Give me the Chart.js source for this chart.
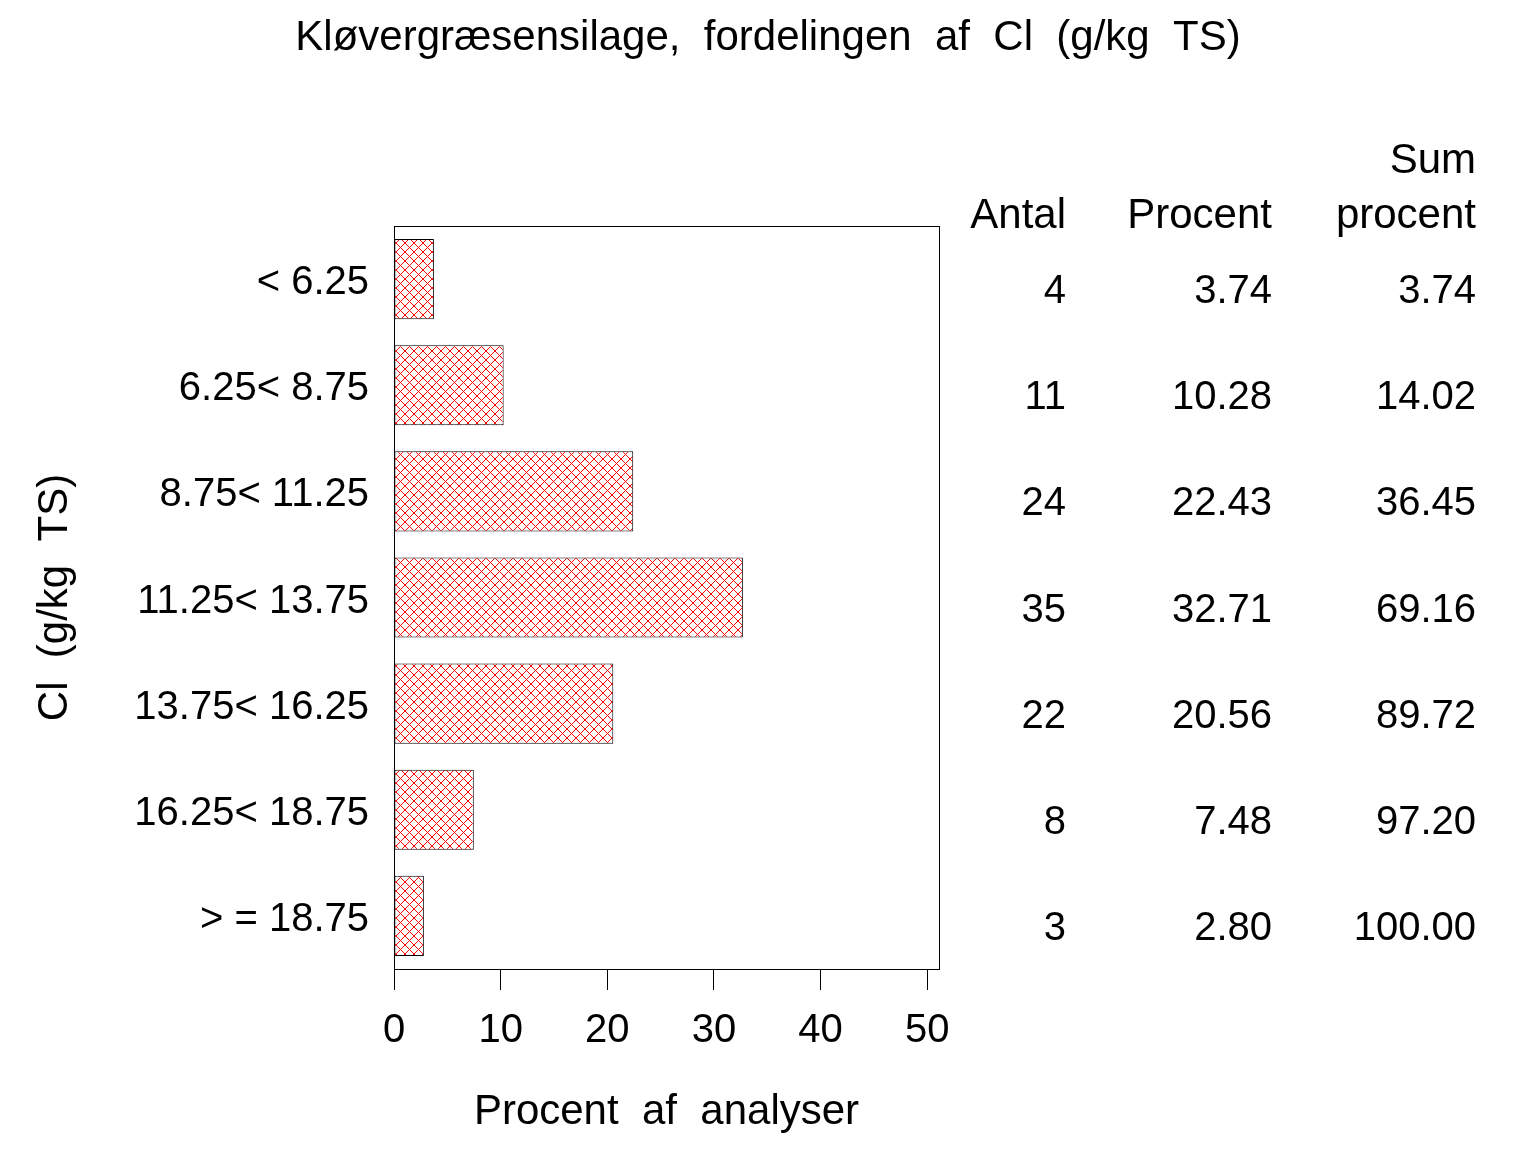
<!DOCTYPE html>
<html>
<head>
<meta charset="utf-8">
<script src="https://cdn.jsdelivr.net/npm/chart.js@4.4.1/dist/chart.umd.min.js"></script>
<style>
  html, body { margin: 0; padding: 0; background: #fff; }
  canvas { display: block; }
</style>
</head>
<body>
<canvas id="c" width="1536" height="1152"></canvas>
<script>
const chartTitle = 'Kløvergræsensilage,  fordelingen  af  Cl  (g/kg  TS)';
const yTitle = 'Cl  (g/kg  TS)';
const xTitle = 'Procent  af  analyser';
const categories = ['< 6.25', '6.25< 8.75', '8.75< 11.25', '11.25< 13.75', '13.75< 16.25', '16.25< 18.75', '> = 18.75'];
const percents = [3.74, 10.28, 22.43, 32.71, 20.56, 7.48, 2.80];
const counts = ['4', '11', '24', '35', '22', '8', '3'];
const percentLabels = ['3.74', '10.28', '22.43', '32.71', '20.56', '7.48', '2.80'];
const cumulative = ['3.74', '14.02', '36.45', '69.16', '89.72', '97.20', '100.00'];
const xTicks = [0, 10, 20, 30, 40, 50];

const FONT = '"Liberation Sans", Arial, sans-serif';

function makeHatch() {
  const s = 9;
  const p = document.createElement('canvas');
  p.width = s; p.height = s;
  const g = p.getContext('2d');
  g.fillStyle = '#ffffff';
  g.fillRect(0, 0, s, s);
  g.fillStyle = '#ff0000';
  for (let i = 0; i < s; i++) {
    g.fillRect(i, i, 1, 1);
    g.fillRect(s - 1 - i, i, 1, 1);
  }
  return g.createPattern(p, 'repeat');
}

const ctx = document.getElementById('c').getContext('2d');
const hatch = makeHatch();

const extras = {
  id: 'extras',
  afterDatasetsDraw(chart) {
    const c = chart.ctx;
    const a = chart.chartArea;
    c.save();
    c.strokeStyle = '#000';
    c.lineWidth = 1;
    c.strokeRect(Math.round(a.left) + 0.5, Math.round(a.top) + 0.5,
                 Math.round(a.right - a.left), Math.round(a.bottom - a.top));
    c.restore();
  },
  afterDraw(chart) {
    const c = chart.ctx;
    const ys = chart.scales.y;
    c.save();
    c.fillStyle = '#000';
    c.font = '42px ' + FONT;
    c.textAlign = 'center';
    c.textBaseline = 'middle';
    c.fillText(chartTitle, 768, 38);
    const cols = [1066, 1272, 1476];
    c.textAlign = 'right';
    c.textBaseline = 'alphabetic';
    c.fillText('Sum', cols[2], 173);
    c.fillText('Antal', cols[0], 228);
    c.fillText('Procent', cols[1], 228);
    c.fillText('procent', cols[2], 228);
    c.font = '40px ' + FONT;
    c.textBaseline = 'middle';
    categories.forEach((cat, i) => {
      const y = ys.getPixelForValue(i) + 13;
      c.fillText(counts[i], cols[0], y);
      c.fillText(percentLabels[i], cols[1], y);
      c.fillText(cumulative[i], cols[2], y);
    });
    c.restore();
  }
};

new Chart(ctx, {
  type: 'bar',
  data: {
    labels: categories,
    datasets: [{
      data: percents,
      backgroundColor: hatch,
      borderColor: '#000',
      borderWidth: 1,
      borderSkipped: false,
      categoryPercentage: 1,
      barPercentage: 0.755
    }]
  },
  options: {
    indexAxis: 'y',
    responsive: false,
    animation: false,
    devicePixelRatio: 1,
    layout: { padding: { left: 26, right: 597, top: 226, bottom: 10 } },
    plugins: {
      legend: { display: false },
      title: { display: false },
      tooltip: { enabled: false }
    },
    scales: {
      x: {
        type: 'linear',
        min: 0,
        max: 51.1,
        afterFit(scale) { scale.height = 173; },
        afterBuildTicks(scale) { scale.ticks = xTicks.map(v => ({ value: v })); },
        ticks: {
          includeBounds: false,
          stepSize: 10,
          color: '#000',
          font: { family: FONT, size: 40 },
          padding: 17,
          maxRotation: 0
        },
        grid: {
          display: true,
          drawOnChartArea: false,
          drawTicks: true,
          tickLength: 21,
          color: '#000',
          tickColor: '#000',
          lineWidth: 1
        },
        border: { display: false },
        title: {
          display: true,
          text: xTitle,
          color: '#000',
          font: { family: FONT, size: 42 },
          padding: { top: 4, bottom: 4 }
        }
      },
      y: {
        afterFit(scale) { scale.width = 394 - 26; },
        ticks: {
          color: '#000',
          font: { family: FONT, size: 40 },
          padding: 25,
          labelOffset: 4
        },
        grid: { display: false, drawTicks: false },
        border: { display: false },
        title: {
          display: true,
          text: yTitle,
          color: '#000',
          font: { family: FONT, size: 42 },
          padding: { top: 4, bottom: 4 }
        }
      }
    }
  },
  plugins: [extras]
});
</script>
</body>
</html>
